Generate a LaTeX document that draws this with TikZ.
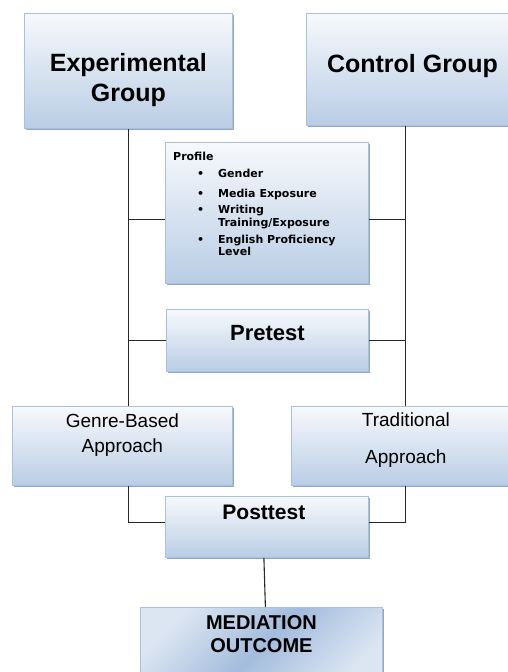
\documentclass[tikz,border=0pt]{standalone}
\usepackage{fontspec}
\setmainfont{Liberation Sans}
\newfontfamily\proffont{DejaVu Sans}
\usetikzlibrary{positioning,shadows}
\definecolor{boxtop}{HTML}{F7F9FC}
\definecolor{boxbot}{HTML}{B9CDE5}
\definecolor{boxline}{HTML}{A9C1E0}
\definecolor{boxshade}{HTML}{8A9DB8}
\definecolor{medlight}{HTML}{DCE6F2}
\definecolor{meddark}{HTML}{A3BCDD}
\definecolor{wirec}{HTML}{262626}
\newcommand{\pitem}[1]{\makebox[24pt]{}\makebox[21pt][l]{\textbullet}#1}
\newcommand{\pcont}[1]{\makebox[45pt]{}#1}

\begin{document}
\begin{tikzpicture}[x=1pt,y=1pt,
  stagebox/.style={draw=boxline,line width=0.8pt,top color=boxtop,bottom color=boxbot,
    drop shadow={shadow xshift=1.8pt,shadow yshift=-1.8pt,fill=boxshade,opacity=0.9},
    anchor=north west,inner sep=0pt},
  medbox/.style={stagebox,top color=medlight,bottom color=medlight,middle color=meddark,
    shading angle=45},
  boxtext/.style={anchor=north,inner sep=0pt,align=center},
  wire/.style={draw=wirec,line width=1.1pt}
]
\useasboundingbox (0,0) rectangle (507,-672);

% boxes
\node[stagebox,minimum width=208pt,minimum height=115pt] (exp) at (24,-13) {};
\node[stagebox,minimum width=212pt,minimum height=112pt] (ctl) at (306,-13) {};
\node[stagebox,minimum width=203pt,minimum height=141pt] (prof) at (165,-142) {};
\node[stagebox,minimum width=202pt,minimum height=62pt] (pre) at (166,-309) {};
\node[stagebox,minimum width=220pt,minimum height=79pt] (gen) at (12,-406) {};
\node[stagebox,minimum width=229pt,minimum height=79pt] (tra) at (291,-406) {};
\node[stagebox,minimum width=203pt,minimum height=61pt] (post) at (165,-496) {};
\node[medbox,minimum width=242pt,minimum height=80pt] (med) at (140,-607) {};

% texts
\node[boxtext,font=\fontsize{25}{30}\selectfont\bfseries,below=40pt of exp.north] (exp-t) {Experimental\\Group};
\node[boxtext,font=\fontsize{25}{30}\selectfont\bfseries,below=41pt of ctl.north] (ctl-t) {Control Group};
\node[anchor=north west,inner sep=0pt,align=left,font=\proffont\fontsize{11}{12.5}\selectfont\bfseries]
  (prof-t) at ([xshift=8pt,yshift=-10pt]prof.north west)
  {Profile\\[4.5pt]\pitem{Gender}\\[7.5pt]\pitem{Media Exposure}\\[3.5pt]\pitem{Writing}\\
   \pcont{Training/Exposure}\\[4.5pt]\pitem{English Proficiency}\\\pcont{Level}};
\node[boxtext,font=\fontsize{22}{26}\selectfont\bfseries,below=16pt of pre.north] (pre-t) {Pretest};
\node[boxtext,font=\fontsize{19}{25}\selectfont,below=8pt of gen.north] (gen-t) {Genre-Based\\Approach};
\node[boxtext,font=\fontsize{19}{24}\selectfont,below=7pt of tra.north] (tra-t) {Traditional\\[13pt]Approach};
\node[boxtext,font=\fontsize{21}{25}\selectfont\bfseries,below=9pt of post.north,xshift=-3pt] (post-t) {Posttest};
\node[boxtext,font=\fontsize{20}{23}\selectfont\bfseries,below=8pt of med.north] (med-t) {MEDIATION\\OUTCOME};

% connectors
\coordinate (profl) at ([yshift=-6.5pt]prof.west);
\coordinate (profr) at ([yshift=-6.5pt]prof.east);
\coordinate (pl) at ([yshift=4.5pt]post.west);
\coordinate (pr) at ([yshift=4.5pt]post.east);
\draw[wire] (exp.south) -- (gen.north -| exp.south);
\draw[wire] (tra.north) -- (ctl.south -| tra.north);
\draw[wire] (profl) -- (profl -| exp.south);
\draw[wire] (profr) -- (profr -| tra.north);
\draw[wire] (pre.west) -- (pre.west -| exp.south);
\draw[wire] (pre.east) -- (pre.east -| tra.north);
\draw[wire] (gen.south -| exp.south) |- (pl);
\draw[wire] (tra.south) |- (pr);
\draw[wire] ([xshift=-3pt]post.south) -- ([xshift=4pt]med.north);
\end{tikzpicture}
\end{document}
